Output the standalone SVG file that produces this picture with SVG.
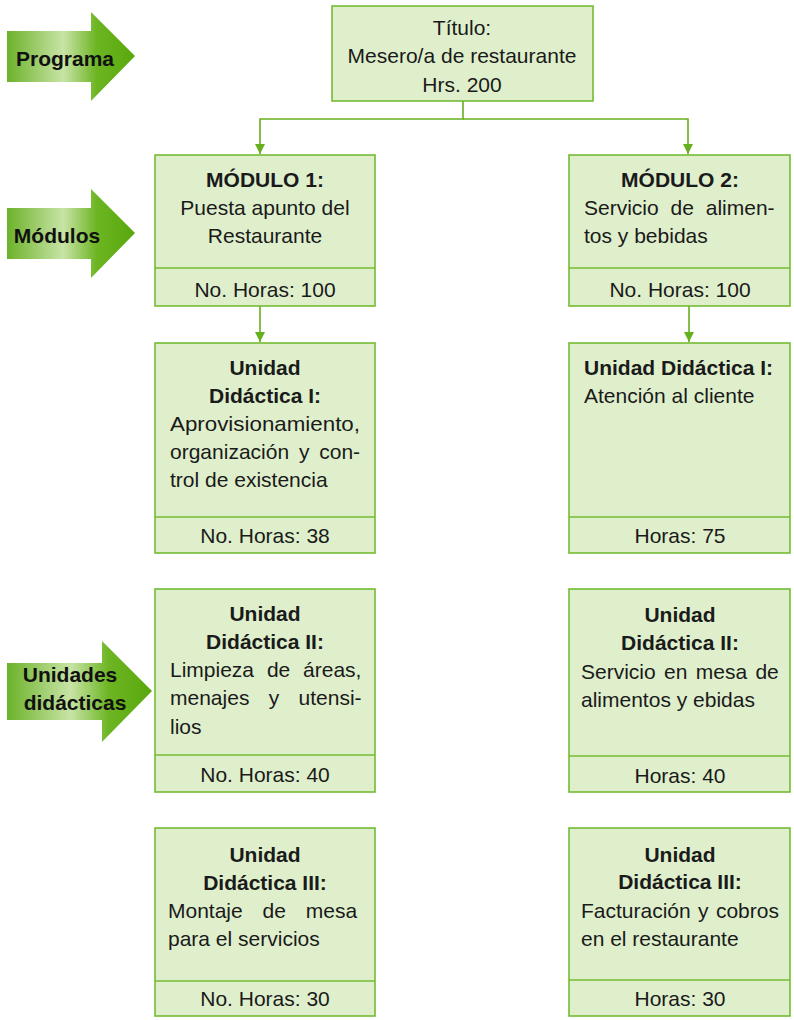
<svg xmlns="http://www.w3.org/2000/svg" width="794" height="1020" viewBox="0 0 794 1020">
<defs>
<linearGradient id="ag" x1="0" y1="0" x2="1" y2="0">
<stop offset="0" stop-color="#6cb22a"/>
<stop offset="0.44" stop-color="#c8e4a6"/>
<stop offset="0.7" stop-color="#6db523"/>
<stop offset="1" stop-color="#58a80c"/>
</linearGradient>
<marker id="ah" viewBox="0 0 10 10" refX="10" refY="5" markerWidth="10" markerHeight="10" markerUnits="userSpaceOnUse" orient="auto">
<path d="M0,0 L10,5 L0,10 Z" fill="#66b01e"/>
</marker>
</defs>
<style>
.box{fill:#dfefcc;stroke:#74bc33;stroke-width:1.6}
.div{stroke:#74bc33;stroke-width:1.6}
.t{font-family:"Liberation Sans",Arial,sans-serif;font-size:21px;fill:#1a1a1a}
.b{font-weight:bold}
.c{text-anchor:middle}
.conn{fill:none;stroke:#66b01e;stroke-width:1.6}
.arr{fill:url(#ag)}
.al{font-family:"Liberation Sans",Arial,sans-serif;font-size:21px;font-weight:bold;fill:#111;text-anchor:middle}
</style>
<rect width="794" height="1020" fill="#ffffff"/>

<g id="arrow-programa">
<path class="arr" d="M7,31 H91 V12 L135,56 L91,101 V82 H7 Z"/>
<text class="al" x="65" y="66">Programa</text>
</g>
<g id="arrow-modulos">
<path class="arr" d="M7,208 H91 V189 L135,233 L91,278 V259 H7 Z"/>
<text class="al" x="57" y="243">Módulos</text>
</g>
<g id="arrow-unidades">
<path class="arr" d="M7,663 H102 V641 L152,691 L102,742 V720 H7 Z"/>
<text class="al" x="70" y="682">Unidades</text>
<text class="al" x="75" y="710">didácticas</text>
</g>

<g id="connectors">
<path class="conn" d="M463,101 V119 H260 V154" marker-end="url(#ah)"/>
<path class="conn" d="M463,119 H688 V154" marker-end="url(#ah)"/>
<path class="conn" d="M260,306 V342" marker-end="url(#ah)"/>
<path class="conn" d="M689,306 V342" marker-end="url(#ah)"/>
</g>

<g id="titulo">
<rect class="box" x="332" y="6" width="261" height="95"/>
<text class="t c" x="462" y="35">Título:</text>
<text class="t c" x="462" y="63">Mesero/a de restaurante</text>
<text class="t c" x="462" y="92">Hrs. 200</text>
</g>

<g id="modulo1">
<rect class="box" x="155" y="155" width="220" height="151"/>
<line class="div" x1="155" y1="268" x2="375" y2="268"/>
<text class="t b c" x="265" y="187">MÓDULO 1:</text>
<text class="t c" x="265" y="215">Puesta apunto del</text>
<text class="t c" x="265" y="243">Restaurante</text>
<text class="t c" x="265" y="297">No. Horas: 100</text>
</g>

<g id="modulo2">
<rect class="box" x="569" y="155" width="221" height="151"/>
<line class="div" x1="569" y1="268" x2="790" y2="268"/>
<text class="t b c" x="680" y="187">MÓDULO 2:</text>
<text class="t" x="584" y="215" style="word-spacing:6px">Servicio de alimen-</text>
<text class="t" x="584" y="243">tos y bebidas</text>
<text class="t c" x="680" y="297">No. Horas: 100</text>
</g>

<g id="ud1-m1">
<rect class="box" x="155" y="343" width="220" height="210"/>
<line class="div" x1="155" y1="517" x2="375" y2="517"/>
<text class="t b c" x="265" y="375">Unidad</text>
<text class="t b c" x="265" y="403">Didáctica I:</text>
<text class="t" x="170" y="431" textLength="190" lengthAdjust="spacingAndGlyphs">Aprovisionamiento,</text>
<text class="t" x="170" y="459" style="word-spacing:4px">organización y con-</text>
<text class="t" x="170" y="487">trol de existencia</text>
<text class="t c" x="265" y="543">No. Horas: 38</text>
</g>

<g id="ud1-m2">
<rect class="box" x="569" y="343" width="221" height="210"/>
<line class="div" x1="569" y1="517" x2="790" y2="517"/>
<text class="t b" x="584" y="375">Unidad Didáctica I:</text>
<text class="t" x="584" y="403">Atención al cliente</text>
<text class="t c" x="680" y="543">Horas: 75</text>
</g>

<g id="ud2-m1">
<rect class="box" x="155" y="589" width="220" height="203"/>
<line class="div" x1="155" y1="755" x2="375" y2="755"/>
<text class="t b c" x="265" y="621">Unidad</text>
<text class="t b c" x="265" y="649">Didáctica II:</text>
<text class="t" x="170" y="677" style="word-spacing:7px">Limpieza de áreas,</text>
<text class="t" x="170" y="705" style="word-spacing:13.5px">menajes y utensi-</text>
<text class="t" x="170" y="734">lios</text>
<text class="t c" x="265" y="782">No. Horas: 40</text>
</g>

<g id="ud2-m2">
<rect class="box" x="569" y="589" width="221" height="203"/>
<line class="div" x1="569" y1="756" x2="790" y2="756"/>
<text class="t b c" x="680" y="622">Unidad</text>
<text class="t b c" x="680" y="650">Didáctica II:</text>
<text class="t" x="581" y="679" style="word-spacing:2.5px">Servicio en mesa de</text>
<text class="t" x="581" y="707">alimentos y ebidas</text>
<text class="t c" x="680" y="783">Horas: 40</text>
</g>

<g id="ud3-m1">
<rect class="box" x="155" y="828" width="220" height="188"/>
<line class="div" x1="155" y1="981" x2="375" y2="981"/>
<text class="t b c" x="265" y="862">Unidad</text>
<text class="t b c" x="265" y="890">Didáctica III:</text>
<text class="t" x="168" y="918" style="word-spacing:14px">Montaje de mesa</text>
<text class="t" x="168" y="946">para el servicios</text>
<text class="t c" x="265" y="1006">No. Horas: 30</text>
</g>

<g id="ud3-m2">
<rect class="box" x="569" y="828" width="221" height="188"/>
<line class="div" x1="569" y1="980" x2="790" y2="980"/>
<text class="t b c" x="680" y="862">Unidad</text>
<text class="t b c" x="680" y="889">Didáctica III:</text>
<text class="t" x="581" y="918" style="word-spacing:1.5px">Facturación y cobros</text>
<text class="t" x="581" y="946">en el restaurante</text>
<text class="t c" x="680" y="1006">Horas: 30</text>
</g>
</svg>
